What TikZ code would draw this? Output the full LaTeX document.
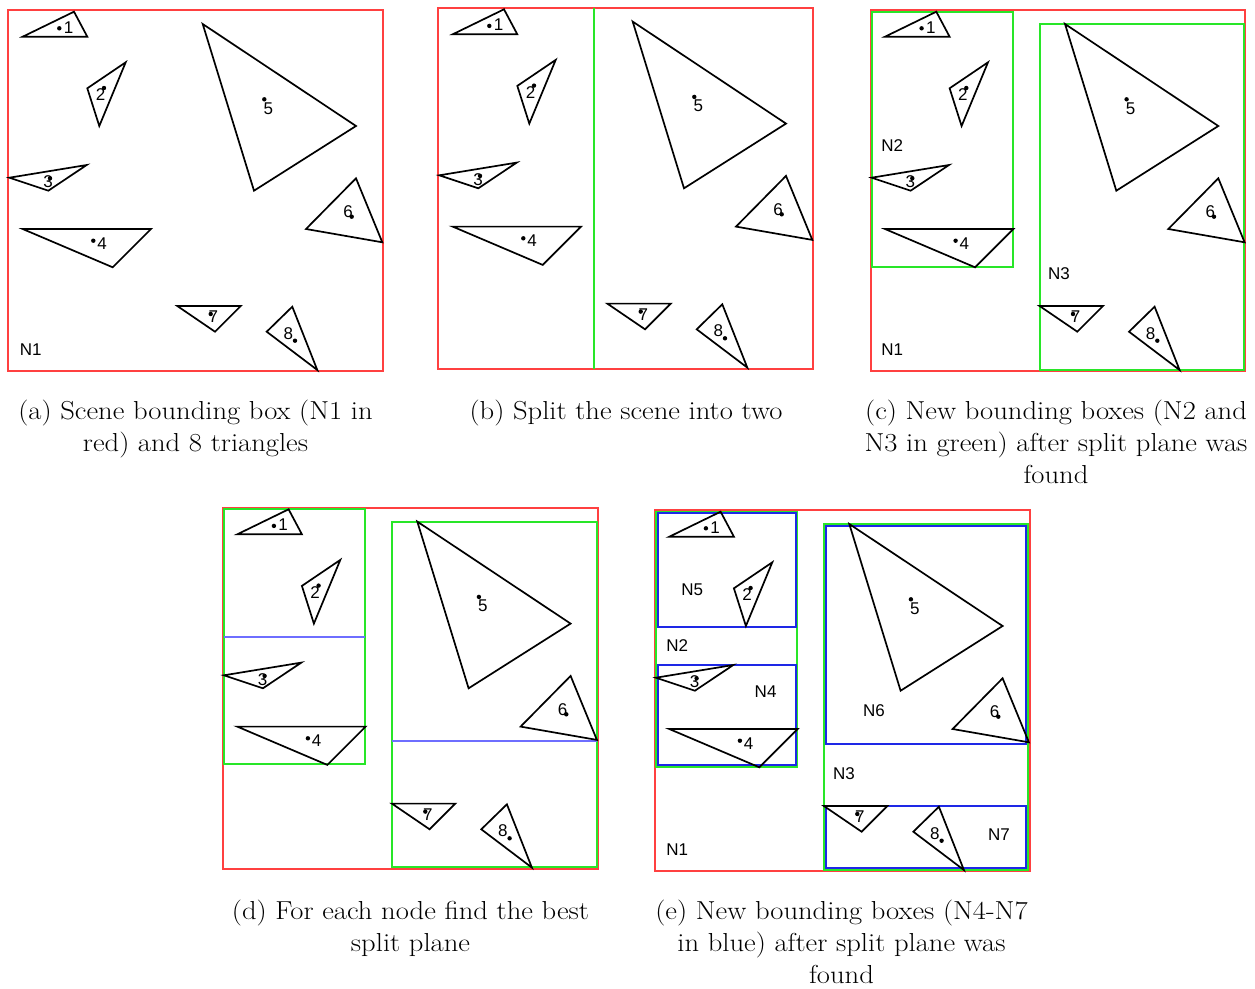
\documentclass[tikz,border=0pt]{standalone}
\usepackage{fontspec}
\newfontfamily\labelfont{Liberation Sans}

\definecolor{boxred}{RGB}{255,64,64}
\definecolor{boxgreen}{RGB}{40,230,40}
\definecolor{boxblue}{RGB}{30,40,230}
\definecolor{splitblue}{RGB}{110,110,255}

% the eight triangles of the scene, #1 is a prefix for the node names
\newcommand\trianglescene[1]{%
  \draw[tri] (22.7,36.7) -- (74,11.7) -- (87.3,36.7) -- cycle;
  \draw[tri] (87.3,88.3) -- (125.7,62.3) -- (99.3,126) -- cycle;
  \draw[tri] (9.3,177.7) -- (86.7,165) -- (48.3,190.7) -- cycle;
  \draw[tri] (22.7,229) -- (151,229) -- (112.7,267.3) -- cycle;
  \draw[tri] (202.7,24) -- (356,126) -- (254,190.7) -- cycle;
  \draw[tri] (356,178.3) -- (382.3,242.3) -- (306,229) -- cycle;
  \draw[tri] (177.3,306) -- (240.7,306) -- (215,331.7) -- cycle;
  \draw[tri] (292.3,306.7) -- (317.3,370) -- (266.7,331.7) -- cycle;
  \fill (59.3,28.3) circle (2.2);   \node[num] (#1-t1) at (68.5,27.5) {1};
  \fill (104,88) circle (2.2);      \node[num] (#1-t2) at (100.5,95) {2};
  \fill (50,178.3) circle (2.2);    \node[num] (#1-t3) at (48,182) {3};
  \fill (93.3,240.7) circle (2.2);  \node[num] (#1-t4) at (102,243.3) {4};
  \fill (264.3,99.3) circle (2.2);  \node[num] (#1-t5) at (268.3,108.3) {5};
  \fill (351.7,216.7) circle (2.2); \node[num] (#1-t6) at (348,211.7) {6};
  \fill (210.7,314) circle (2.2);   \node[num] (#1-t7) at (213.3,316.7) {7};
  \fill (295,340.7) circle (2.2);   \node[num] (#1-t8) at (288.3,333.3) {8};
}

\begin{document}
\begin{tikzpicture}[
    x=1pt, y=-1pt,
    tri/.style={draw=black, line width=1.7pt, line join=miter},
    num/.style={font=\labelfont\fontsize{17}{17}\selectfont, inner sep=0pt},
    nlabel/.style={font=\labelfont\fontsize{17}{17}\selectfont, inner sep=0pt},
    nodeN1/.style={draw=boxred, line width=2pt},
    nodeN23/.style={draw=boxgreen, line width=2pt},
    nodeN47/.style={draw=boxblue, line width=2pt},
    splitline/.style={draw=splitblue, line width=2.2pt},
    caption/.style={anchor=north, align=center, inner sep=0pt,
      xscale=1.1, transform shape, font=\fontsize{26}{32}\selectfont}
  ]
  \useasboundingbox (0,0) rectangle (1255,988);

  % (a)
  \begin{scope}
    \draw[nodeN1] (8.3,10) rectangle (383,371);
    \trianglescene{a}
    \node[nlabel] (a-n1) at (30.7,350) {N1};
  \end{scope}

  % (b)
  \begin{scope}[shift={(430,-2.4)}]
    \draw[nodeN1] (8.3,10) rectangle (383,371);
    \draw[nodeN23] (164,10) -- (164,371);
    \trianglescene{b}
  \end{scope}

  % (c)
  \begin{scope}[shift={(862.3,0)}]
    \draw[nodeN1] (8.3,10) rectangle (383,371);
    \draw[nodeN23] (9.7,11.7) rectangle (150.8,266.7);
    \draw[nodeN23] (177.3,24) rectangle (381.3,369.5);
    \trianglescene{c}
    \node[nlabel] (c-n1) at (30,350) {N1};
    \node[nlabel] (c-n2) at (30,146) {N2};
    \node[nlabel] (c-n3) at (196.7,274) {N3};
  \end{scope}

  % (d)
  \begin{scope}[shift={(214.6,497.6)}]
    \draw[nodeN1] (8.3,10) rectangle (383,371);
    \draw[nodeN23] (9.7,11.7) rectangle (150.8,266.7);
    \draw[nodeN23] (177.3,24) rectangle (382.3,369.5);
    \draw[splitline] (9.7,139.7) -- (150.8,139.7);
    \draw[splitline] (177.3,243) -- (382.3,243);
    \trianglescene{d}
  \end{scope}

  % (e)
  \begin{scope}[shift={(646.6,500)}]
    \draw[nodeN1] (8.3,10) rectangle (383,371);
    \draw[nodeN23] (9.7,11.7) rectangle (150.8,266.7);
    \draw[nodeN23] (177.3,24) rectangle (381.3,369.5);
    \draw[nodeN47] (11.4,13.4) rectangle (149.1,126.5);
    \draw[nodeN47] (11.4,165) rectangle (149.1,265);
    \draw[nodeN47] (179,25.7) rectangle (379.6,243.5);
    \draw[nodeN47] (179,306) rectangle (379.6,367.8);
    \trianglescene{e}
    \node[nlabel] (e-n1) at (30.7,350) {N1};
    \node[nlabel] (e-n2) at (30.7,145.7) {N2};
    \node[nlabel] (e-n3) at (197.3,274) {N3};
    \node[nlabel] (e-n4) at (119,191.7) {N4};
    \node[nlabel] (e-n5) at (45.7,89.3) {N5};
    \node[nlabel] (e-n6) at (227.3,210.7) {N6};
    \node[nlabel] (e-n7) at (352.3,334.3) {N7};
  \end{scope}

  \node[caption] (cap-a) at (195.5,400) {(a) Scene bounding box (N1 in\\red) and 8 triangles};
  \node[caption] (cap-b) at (626,400) {(b) Split the scene into two};
  \node[caption] (cap-c) at (1056,400) {(c) New bounding boxes (N2 and\\N3 in green) after split plane was\\found};
  \node[caption] (cap-d) at (410.5,900) {(d) For each node find the best\\split plane};
  \node[caption] (cap-e) at (841.5,900) {(e) New bounding boxes (N4-N7\\in blue) after split plane was\\found};
\end{tikzpicture}
\end{document}
